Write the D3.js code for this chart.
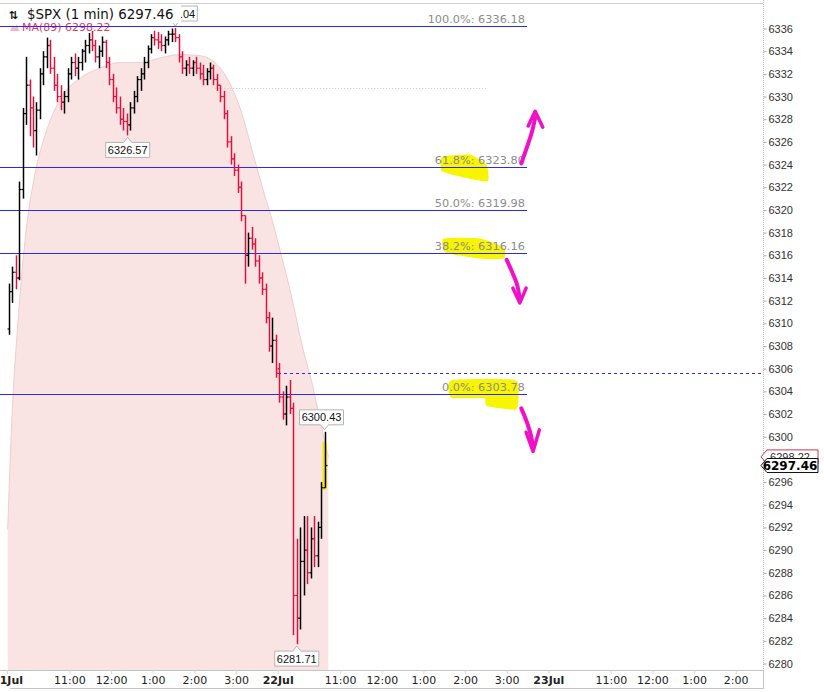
<!DOCTYPE html>
<html><head><meta charset="utf-8">
<script src="https://cdn.jsdelivr.net/npm/d3@7"></script>
<style>
html,body{margin:0;padding:0;background:#fff;}
svg{display:block;}
</style></head><body>
<svg id="c" width="824" height="692"></svg>
<script>
// ---------- data ----------
const dayLabels = ["21Jul", "22Jul", "23Jul"];
const hourLabels = ["11:00", "12:00", "1:00", "2:00", "3:00"];
const hourOffsets = [90, 150, 210, 270, 330];      // minutes after 9:30 open
const sessionMinutes = 390;
const barMinutes = 5;
const priceTicks = [6280,6282,6284,6286,6288,6290,6292,6294,6296,6298,6300,6302,6304,6306,6308,6310,6312,6314,6316,6318,6320,6322,6324,6326,6328,6330,6332,6334,6336];

const firstOpen = 6309.5;
const dayTwoOpen = 6306.0;
const barHigh = [6313.5,6315.0,6316.0,6322.5,6329.0,6333.5,6331.5,6330.0,6329.5,6332.5,
6334.0,6335.2,6335.0,6333.5,6332.0,6331.0,6330.5,6332.5,6333.5,6333.8,
6333.5,6334.2,6335.0,6335.6,6335.8,6335.0,6334.5,6335.3,6335.0,6333.5,
6332.0,6330.8,6330.0,6329.0,6328.5,6329.5,6330.5,6331.8,6332.5,6333.5,
6334.5,6335.5,6335.8,6335.7,6335.5,6335.3,6335.8,6336.0,6336.04,6335.5,
6334.0,6333.2,6333.5,6333.2,6333.5,6333.0,6332.8,6332.5,6333.0,6332.8,
6332.0,6331.0,6330.5,6328.8,6326.5,6325.0,6324.0,6322.5,6319.5,6318.0,
6318.5,6317.5,6316.0,6314.5,6313.5,6311.0,6310.5,6309.0,
6306.5,6304.0,6304.5,6305.0,6303.0,6291.0,6292.0,6293.0,6293.0,6292.0,6293.0,6292.5,6296.0,6300.43];
const barLow = [6309.0,6311.8,6313.0,6313.8,6321.0,6327.5,6326.5,6325.5,6324.8,6328.0,
6331.0,6332.5,6332.0,6330.5,6329.5,6328.8,6328.5,6329.5,6331.5,6331.8,
6331.5,6332.3,6333.0,6333.8,6334.0,6333.0,6332.5,6333.5,6332.5,6331.0,
6329.5,6328.5,6327.5,6327.0,6326.57,6327.0,6328.5,6329.5,6330.5,6331.5,
6332.5,6333.8,6334.5,6334.2,6334.0,6333.8,6334.5,6334.8,6334.8,6333.0,
6332.0,6331.8,6332.0,6331.8,6332.0,6331.5,6331.0,6331.0,6331.5,6331.0,
6330.5,6329.5,6328.0,6325.5,6324.0,6323.0,6321.5,6319.0,6313.5,6315.0,
6316.5,6315.0,6313.5,6312.5,6310.0,6307.5,6306.5,6305.2,
6303.0,6301.5,6301.0,6302.0,6282.5,6281.71,6283.0,6286.0,6287.0,6287.5,6288.5,6288.5,6291.0,6295.5];
const barClose = [6312.8,6314.5,6314.0,6321.8,6328.5,6331.0,6329.0,6327.0,6328.8,6332.0,
6333.5,6334.5,6332.5,6331.0,6330.0,6329.5,6330.0,6332.0,6333.0,6332.5,
6333.0,6334.0,6334.5,6335.0,6334.5,6333.5,6334.0,6334.8,6333.0,6331.5,
6330.0,6329.0,6328.0,6327.8,6327.5,6329.0,6330.0,6331.5,6332.0,6333.0,
6334.2,6335.2,6335.0,6334.8,6334.5,6335.0,6335.5,6335.5,6335.2,6333.5,
6332.5,6332.8,6332.5,6333.0,6332.5,6332.0,6331.5,6332.2,6332.5,6331.5,
6331.0,6330.0,6328.5,6326.0,6324.5,6323.5,6322.0,6319.5,6316.0,6317.5,
6317.0,6315.5,6314.0,6313.0,6310.5,6308.0,6308.5,6305.6,
6303.5,6302.0,6303.5,6302.5,6286.0,6284.0,6289.0,6290.0,6288.0,6291.0,6289.5,6292.0,6295.5,6297.46];

// MA(89) read at sample minutes
const maMinute = [1,7,16,26,40,55,76,105,134,163,192,220,249,278,295,310,324,339,353,367,382,396,411,425,440,451,463];
const maValue = [6291.8,6301.5,6310.3,6317.3,6323.1,6326.6,6329.7,6331.6,6332.5,6333.0,6333.0,6333.4,6333.7,6333.6,6333.2,6332.3,6330.8,6328.4,6325.3,6322.2,6319.1,6315.8,6312.1,6308.1,6304.6,6301.5,6298.22];

const fibPct = ["100.0%", "61.8%", "50.0%", "38.2%", "0.0%"];
const fibValue = [6336.18, 6323.80, 6319.98, 6316.16, 6303.78];
const fibEndMinute = 749;
const prevClose = 6305.60;
const greyLevel = 6330.75, greyFrom = 300, greyTo = 692;

const lastPrice = 6297.46;
const lastMA = 6298.22;
const tagValue = [6336.04, 6326.57, 6281.71, 6300.43];
const tagBar = [48, 34, 83, 91];
const tagSide = ["above", "below", "below", "above"];

// hand-drawn annotations (minute, price)
const yellowMarks = [
  [[628,6324.6],[667,6324.8],[690,6323.9],[692,6322.6],[670,6322.8],[641,6323.2],[627,6323.5]],
  [[630,6317.4],[682,6317.4],[715,6316.6],[715,6315.8],[682,6315.8],[633,6316.3]],
  [[641,6304.9],[732,6304.9],[733,6302.5],[692,6302.8],[689,6303.5],[641,6303.5]]
];
const magentaShafts = [
  [[741,6324.1],[749,6325.5],[756,6326.8],[761,6328.1]],
  [[720,6315.6],[728,6314.5],[735,6313.4],[739,6312.1]],
  [[741,6302.5],[749,6301.3],[755,6300.1],[758,6299.0]]
];
const magentaHeads = [
  [[751,6327.4],[761,6328.7],[772,6327.3]],
  [[729,6313.1],[739,6311.8],[748,6313.1]],
  [[748,6300.4],[758,6298.7],[767,6300.6]]
];

// ---------- layout ----------
const plot = {l: 0, r: 763, t: 4, b: 670};
const x = d3.scaleLinear().domain([0, 1170]).range([7, 819]);
const y = d3.scaleLinear().domain([6280, 6336]).range([663.5, 28.5]);
const BLUE = "#2a2af0";

const svg = d3.select("#c");
svg.append("defs").append("clipPath").attr("id", "clip")
  .append("rect").attr("x", plot.l).attr("y", plot.t).attr("width", plot.r - plot.l).attr("height", plot.b - plot.t);

const bars = barClose.map((c, i) => ({
  i, t: i * barMinutes + barMinutes / 2,
  o: i === 0 ? firstOpen : (i === 78 ? dayTwoOpen : barClose[i - 1]),
  h: barHigh[i], l: barLow[i], c
}));

const g = svg.append("g").attr("clip-path", "url(#clip)");

// MA area
const ma = maMinute.map((m, i) => ({t: m, v: maValue[i]}));
g.append("path").datum(ma)
  .attr("d", d3.area().x(d => x(d.t)).y0(plot.b).y1(d => y(d.v)).curve(d3.curveMonotoneX))
  .attr("fill", "#f9e3e3");
g.append("path").datum(ma)
  .attr("d", d3.line().x(d => x(d.t)).y(d => y(d.v)).curve(d3.curveMonotoneX))
  .attr("fill", "none").attr("stroke", "#f1cdd0").attr("stroke-width", 1);

// grey dotted level
g.append("line").attr("x1", x(greyFrom)).attr("x2", x(greyTo))
  .attr("y1", Math.round(y(greyLevel)) + .5).attr("y2", Math.round(y(greyLevel)) + .5)
  .attr("stroke", "#c8c8c8").attr("stroke-dasharray", "1,2");

// yellow highlights
g.selectAll(".hl").data(yellowMarks).join("path")
  .attr("d", d3.line().x(d => x(d[0])).y(d => y(d[1])).curve(d3.curveCardinalClosed.tension(0.6)))
  .attr("fill", "#f7f500").attr("stroke", "#f7f500").attr("stroke-width", 2);

// fib lines
fibValue.forEach((v, i) => {
  const yy = Math.round(y(v)) + .5;
  g.append("line").attr("x1", plot.l).attr("x2", x(fibEndMinute)).attr("y1", yy).attr("y2", yy)
    .attr("stroke", BLUE).attr("stroke-width", 1).attr("shape-rendering", "crispEdges");
  g.append("text").attr("x", x(fibEndMinute) - 2).attr("y", yy - 4)
    .attr("text-anchor", "end").attr("font-family", "DejaVu Sans").attr("font-size", 11.3)
    .attr("fill", "#8c8c8c").text(fibPct[i] + ": " + v.toFixed(2));
});

// previous close dashed
g.append("line").attr("x1", x(sessionMinutes)).attr("x2", plot.r)
  .attr("y1", Math.round(y(prevClose)) + .5).attr("y2", Math.round(y(prevClose)) + .5)
  .attr("stroke", BLUE).attr("stroke-dasharray", "3,3").attr("shape-rendering", "crispEdges");

// magenta arrows
g.selectAll(".ms").data(magentaShafts).join("path")
  .attr("d", d3.line().x(d => x(d[0])).y(d => y(d[1])).curve(d3.curveCatmullRom))
  .attr("fill", "none").attr("stroke", "#f010c8").attr("stroke-width", 4).attr("stroke-linecap", "round");
g.selectAll(".mh").data(magentaHeads).join("path")
  .attr("d", d3.line().x(d => x(d[0])).y(d => y(d[1])))
  .attr("fill", "none").attr("stroke", "#f010c8").attr("stroke-width", 3.5)
  .attr("stroke-linecap", "round").attr("stroke-linejoin", "round");

// current bar highlight
const lastBar = bars[bars.length - 1];
g.append("rect").attr("x", x(lastBar.t) - 2).attr("y", y(lastBar.h) + 10)
  .attr("width", 4).attr("height", y(lastBar.l) - y(lastBar.h) - 8).attr("fill", "#f5e800");

// OHLC bars
const bw = 2;
const bg = g.append("g");
bars.forEach(b => {
  const cx = Math.round(x(b.t)) + .5;
  const col = b.c >= b.o ? "#000" : "#e0123c";
  bg.append("line").attr("x1", cx).attr("x2", cx).attr("y1", y(b.h)).attr("y2", y(b.l))
    .attr("stroke", col).attr("stroke-width", 1.5);
  bg.append("line").attr("x1", cx - bw).attr("x2", cx).attr("y1", y(b.o)).attr("y2", y(b.o))
    .attr("stroke", col).attr("stroke-width", 1.2);
  bg.append("line").attr("x1", cx).attr("x2", cx + bw).attr("y1", y(b.c)).attr("y2", y(b.c))
    .attr("stroke", col).attr("stroke-width", 1.2);
});

// callout tags
tagValue.forEach((v, k) => {
  const b = bars[tagBar[k]];
  const cx = x(b.t) + (k === 1 ? 1 : 0);
  const txt = v.toFixed(2);
  const w = 44, h = 15;
  let top, tipY, baseY;
  if (tagSide[k] === "below") { tipY = y(v) + 2; baseY = tipY + 5; top = baseY; }
  else { tipY = y(v) - 2; baseY = tipY - 5; top = baseY - h; }
  const left = cx - w / 2 - (k === 3 ? 3 : 0);
  const tg = svg.append("g");
  const pathD = tagSide[k] === "below"
    ? `M${left},${top} H${cx - 4} L${cx},${tipY} L${cx + 4},${top} H${left + w} V${top + h} H${left} Z`
    : `M${left},${top} H${left + w} V${top + h} H${cx + 4} L${cx},${tipY} L${cx - 4},${top + h} H${left} Z`;
  tg.append("path").attr("d", pathD).attr("fill", "#fff").attr("stroke", "#b4b4b4");
  tg.append("text").attr("x", left + w / 2).attr("y", top + 11.5).attr("text-anchor", "middle")
    .attr("font-family", "Liberation Sans, Arial").attr("font-size", 11).attr("fill", "#111").text(txt);
});

// frame
svg.append("line").attr("x1", 0).attr("x2", plot.r).attr("y1", 3.5).attr("y2", 3.5).attr("stroke", "#d0d0d0");
svg.append("line").attr("x1", 0).attr("x2", plot.r + 1).attr("y1", plot.b + .5).attr("y2", plot.b + .5).attr("stroke", "#c4c4c4");
svg.append("line").attr("x1", 10).attr("x2", plot.r + 1).attr("y1", 688.5).attr("y2", 688.5).attr("stroke", "#c4c4c4");
svg.append("line").attr("x1", plot.r + .5).attr("x2", plot.r + .5).attr("y1", 0).attr("y2", plot.b)
  .attr("stroke", "#b8b8b8").attr("stroke-dasharray", "1,1");
svg.append("line").attr("x1", plot.r + .5).attr("x2", plot.r + .5).attr("y1", plot.b).attr("y2", 688)
  .attr("stroke", "#c4c4c4");

// right axis
const yAxis = d3.axisRight(y).tickValues(priceTicks).tickSize(3).tickPadding(2).tickFormat(d3.format("d"));
const ya = svg.append("g").attr("transform", `translate(${plot.r + 0.5},0)`).call(yAxis);
ya.select(".domain").remove();
ya.selectAll("line").attr("stroke", "#aaa");
ya.selectAll("text").attr("font-family", "Liberation Sans, Arial").attr("font-size", 11).attr("fill", "#333");

// bottom axis
const tickT = [], tickText = [], tickBold = [];
dayLabels.forEach((d, di) => {
  tickT.push(di * sessionMinutes); tickText.push(d); tickBold.push(true);
  hourLabels.forEach((hl, hi) => {
    tickT.push(di * sessionMinutes + hourOffsets[hi]); tickText.push(hl); tickBold.push(false);
  });
});
const keep = tickT.map((t, i) => i).filter(i => x(tickT[i]) < plot.r - 12);
const xAxis = d3.axisBottom(x).tickValues(keep.map(i => tickT[i]))
  .tickFormat((d, j) => tickText[keep[j]]).tickSize(4).tickPadding(4);
const xa = svg.append("g").attr("transform", `translate(0,${plot.b})`).call(xAxis);
xa.select(".domain").remove();
xa.selectAll("line").attr("stroke", "#d8d8d8");
xa.selectAll("text").attr("font-family", "DejaVu Sans").attr("font-size", 11).attr("fill", "#222")
  .attr("dy", "0.55em")
  .attr("font-weight", (d, j) => tickBold[keep[j]] ? "bold" : "normal");

// right price tags
function priceTag(v, stroke, bold, textCol) {
  const yy = y(v);
  const tg = svg.append("g");
  tg.append("path").attr("d", `M${plot.r - 2},${yy} L${plot.r + 4},${yy - 7} H818 V${yy + 7} H${plot.r + 4} Z`)
    .attr("fill", "#fff").attr("stroke", stroke).attr("stroke-width", 1);
  tg.append("text").attr("x", 790).attr("y", yy + 4.5).attr("text-anchor", "middle")
    .attr("font-family", bold ? "DejaVu Sans" : "Liberation Sans, Arial")
    .attr("font-weight", bold ? "bold" : "normal").attr("font-size", bold ? 12 : 11)
    .attr("fill", textCol).text(v.toFixed(2));
}
priceTag(lastMA, "#d0305a", false, "#333");
priceTag(lastPrice, "#111", true, "#000");

// legend
svg.append("rect").attr("x", 4).attr("y", 5).attr("width", 177).attr("height", 18).attr("fill", "#fff");
svg.append("text").attr("x", 9).attr("y", 19).attr("font-family", "DejaVu Sans").attr("font-size", 11)
  .attr("font-weight", "bold").attr("fill", "#111").text("⇅");
svg.append("text").attr("x", 27).attr("y", 19).attr("font-family", "DejaVu Sans").attr("font-size", 13.4)
  .attr("fill", "#111").text("$SPX (1 min) " + lastPrice.toFixed(2));
svg.append("path").attr("d", "M10,31 L13,25 L15,28 L17,24 L19,31 Z").attr("fill", "#f2b7c2");
svg.append("text").attr("x", 22).attr("y", 31).attr("font-family", "DejaVu Sans").attr("font-size", 11)
  .attr("fill", "#e03a6a").text("MA(89) " + lastMA.toFixed(2));
// top fib line drawn over the legend text as in the reference
svg.append("line").attr("x1", 0).attr("x2", x(fibEndMinute)).attr("y1", Math.round(y(fibValue[0])) + .5)
  .attr("y2", Math.round(y(fibValue[0])) + .5).attr("stroke", BLUE).attr("shape-rendering", "crispEdges");
</script>
</body></html>
